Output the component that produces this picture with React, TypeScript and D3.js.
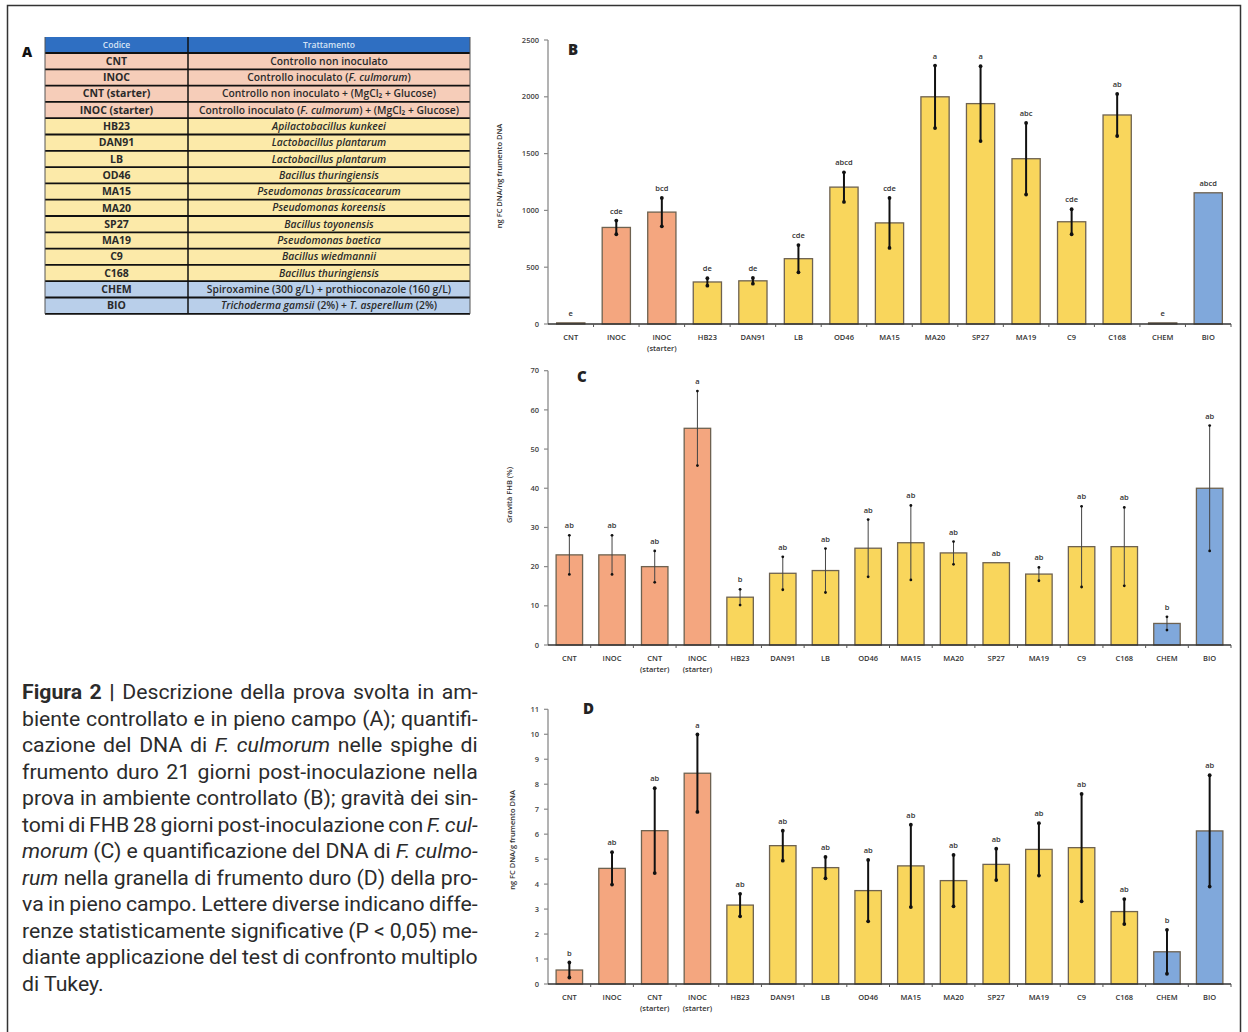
import React, { useLayoutEffect, useRef, useState } from 'react';
import * as d3 from 'd3';

// ---------------- DATA ----------------
const tableCodes = ['CNT', 'INOC', 'CNT (starter)', 'INOC (starter)', 'HB23', 'DAN91', 'LB', 'OD46', 'MA15', 'MA20', 'SP27', 'MA19', 'C9', 'C168', 'CHEM', 'BIO'];
const tableGroups = ['p', 'p', 'p', 'p', 'y', 'y', 'y', 'y', 'y', 'y', 'y', 'y', 'y', 'y', 'b', 'b'];
// [text, italic]
const tableTreat: [string, number][][] = [
  [['Controllo non inoculato', 0]],
  [['Controllo inoculato (', 0], ['F. culmorum', 1], [')', 0]],
  [['Controllo non inoculato + (MgCl₂ + Glucose)', 0]],
  [['Controllo inoculato (', 0], ['F. culmorum', 1], [') + (MgCl₂ + Glucose)', 0]],
  [['Apilactobacillus kunkeei', 1]],
  [['Lactobacillus plantarum', 1]],
  [['Lactobacillus plantarum', 1]],
  [['Bacillus thuringiensis', 1]],
  [['Pseudomonas brassicacearum', 1]],
  [['Pseudomonas koreensis', 1]],
  [['Bacillus toyonensis', 1]],
  [['Pseudomonas baetica', 1]],
  [['Bacillus wiedmannii', 1]],
  [['Bacillus thuringiensis', 1]],
  [['Spiroxamine (300 g/L) + prothioconazole (160 g/L)', 0]],
  [['Trichoderma gamsii', 1], [' (2%) + ', 0], ['T. asperellum', 1], [' (2%)', 0]],
];

const catsB = ['CNT', 'INOC', 'INOC\n(starter)', 'HB23', 'DAN91', 'LB', 'OD46', 'MA15', 'MA20', 'SP27', 'MA19', 'C9', 'C168', 'CHEM', 'BIO'];
const groupB = ['p', 'p', 'p', 'y', 'y', 'y', 'y', 'y', 'y', 'y', 'y', 'y', 'y', 'b', 'b'];
const valsB = [10, 850, 985, 370, 380, 575, 1205, 890, 2000, 1940, 1455, 900, 1840, 10, 1155];
const errB = [0, 60, 125, 33, 25, 120, 130, 220, 275, 330, 315, 110, 185, 0, 0];
const lettersB = ['e', 'cde', 'bcd', 'de', 'de', 'cde', 'abcd', 'cde', 'a', 'a', 'abc', 'cde', 'ab', 'e', 'abcd'];
const ticksB = [0, 500, 1000, 1500, 2000, 2500];

const catsCD = ['CNT', 'INOC', 'CNT\n(starter)', 'INOC\n(starter)', 'HB23', 'DAN91', 'LB', 'OD46', 'MA15', 'MA20', 'SP27', 'MA19', 'C9', 'C168', 'CHEM', 'BIO'];
const groupCD = ['p', 'p', 'p', 'p', 'y', 'y', 'y', 'y', 'y', 'y', 'y', 'y', 'y', 'y', 'b', 'b'];

const valsC = [23, 23, 20, 55.3, 12.2, 18.3, 19, 24.7, 26.1, 23.5, 21, 18.1, 25.1, 25.1, 5.5, 40];
const errC = [5, 5, 4, 9.5, 2, 4.2, 5.6, 7.3, 9.5, 2.9, 0, 1.7, 10.3, 10, 1.7, 16];
const lettersC = ['ab', 'ab', 'ab', 'a', 'b', 'ab', 'ab', 'ab', 'ab', 'ab', 'ab', 'ab', 'ab', 'ab', 'b', 'ab'];
const ticksC = [0, 10, 20, 30, 40, 50, 60, 70];

const valsD = [0.56, 4.63, 6.14, 8.44, 3.16, 5.54, 4.66, 3.74, 4.73, 4.14, 4.79, 5.39, 5.46, 2.9, 1.29, 6.13];
const errD = [0.3, 0.65, 1.7, 1.55, 0.45, 0.6, 0.43, 1.23, 1.65, 1.03, 0.63, 1.05, 2.15, 0.5, 0.88, 2.23];
const lettersD = ['b', 'ab', 'ab', 'a', 'ab', 'ab', 'ab', 'ab', 'ab', 'ab', 'ab', 'ab', 'ab', 'ab', 'b', 'ab'];
const ticksD = [0, 1, 2, 3, 4, 5, 6, 7, 8, 9, 10, 11];

type Seg = { t: string; b?: number; i?: number };
const captionLines: Seg[][] = [
  [{ t: 'Figura 2 |', b: 1 }, { t: ' Descrizione della prova svolta in am-' }],
  [{ t: 'biente controllato e in pieno campo (A); quantifi-' }],
  [{ t: 'cazione del DNA di ' }, { t: 'F. culmorum', i: 1 }, { t: ' nelle spighe di' }],
  [{ t: 'frumento duro 21 giorni post-inoculazione nella' }],
  [{ t: 'prova in ambiente controllato (B); gravità dei sin-' }],
  [{ t: 'tomi di FHB 28 giorni post-inoculazione con ' }, { t: 'F. cul-', i: 1 }],
  [{ t: 'morum', i: 1 }, { t: ' (C) e quantificazione del DNA di ' }, { t: 'F. culmo-', i: 1 }],
  [{ t: 'rum', i: 1 }, { t: ' nella granella di frumento duro (D) della pro-' }],
  [{ t: 'va in pieno campo. Lettere diverse indicano diffe-' }],
  [{ t: 'renze statisticamente significative (P < 0,05) me-' }],
  [{ t: 'diante applicazione del test di confronto multiplo' }],
  [{ t: 'di Tukey.' }],
];

// ---------------- STYLE ----------------
const FILL: Record<string, string> = { p: '#F4A67F', y: '#F9D65C', b: '#80A8DB' };
const ROWFILL: Record<string, string> = { p: '#F6CDB9', y: '#FCEAA9', b: '#B9CFEA' };
const CF = '"Open Sans", "Liberation Sans", sans-serif';

type PanelProps = {
  cats: string[]; vals: number[]; errs: number[]; letters: string[]; groups: string[];
  ticks: number[]; x0: number; x1: number; y0: number; yTop: number;
  ylab: string; ylabX: number; ylabY: number; panel: string; panelX: number; panelY: number;
  thinErr?: boolean;
};

function Panel(p: PanelProps) {
  const n = p.cats.length;
  const x = d3.scaleBand<number>().domain(d3.range(n)).range([p.x0, p.x1]).paddingInner(0.38).paddingOuter(0.19);
  const max = p.ticks[p.ticks.length - 1];
  const y = d3.scaleLinear().domain([0, max]).range([p.y0, p.yTop]);
  const step = x.step();
  const errColor = p.thinErr ? '#444' : '#111';
  const errW = p.thinErr ? 1 : 2;
  return (
    <g>
      <line x1={p.x0} x2={p.x0} y1={p.y0} y2={p.yTop} stroke="#8a8a8a" strokeWidth={1.3} />
      {p.ticks.map((t) => (
        <g key={t}>
          <line x1={p.x0 - 4} x2={p.x0} y1={y(t)} y2={y(t)} stroke="#8a8a8a" strokeWidth={1.2} />
          <text x={p.x0 - 9} y={y(t)} dy="0.35em" textAnchor="end" fontSize={7.5} fontWeight={600} fill="#444" fontFamily={CF}>{t}</text>
        </g>
      ))}
      {p.vals.map((v, i) => (
        <rect key={i} x={x(i)} y={y(v)} width={x.bandwidth()} height={p.y0 - y(v)}
          fill={FILL[p.groups[i]]} stroke="#6e6250" strokeWidth={1.3} />
      ))}
      <line x1={p.x0} x2={p.x1} y1={p.y0} y2={p.y0} stroke="#333" strokeWidth={1.6} />
      {d3.range(1, n + 1).map((k) => (
        <line key={k} x1={p.x0 + k * step} x2={p.x0 + k * step} y1={p.y0} y2={p.y0 + 3} stroke="#555" strokeWidth={1} />
      ))}
      {p.vals.map((v, i) => {
        const e = p.errs[i];
        if (!e) return null;
        const cx = (x(i) as number) + x.bandwidth() / 2;
        return (
          <g key={i}>
            <line x1={cx} x2={cx} y1={y(v + e)} y2={y(Math.max(0, v - e))} stroke={errColor} strokeWidth={errW} />
            <circle cx={cx} cy={y(v + e)} r={p.thinErr ? 1.4 : 1.9} fill="#111" />
            <circle cx={cx} cy={y(Math.max(0, v - e))} r={p.thinErr ? 1.4 : 1.9} fill="#111" />
          </g>
        );
      })}
      {p.vals.map((v, i) => {
        const cx = (x(i) as number) + x.bandwidth() / 2;
        return (
          <text key={i} x={cx} y={y(v + p.errs[i]) - 7} textAnchor="middle" fontSize={7.5} fontWeight={600} fill="#333" fontFamily={CF}>{p.letters[i]}</text>
        );
      })}
      {p.cats.map((c, i) => {
        const cx = (x(i) as number) + x.bandwidth() / 2;
        const parts = c.split('\n');
        return (
          <text key={i} x={cx} y={p.y0 + 16} textAnchor="middle" fontSize={7.5} fontWeight={600} fill="#333" fontFamily={CF}>
            {parts.map((s, j) => (
              <tspan key={j} x={cx} dy={j === 0 ? 0 : 11}>{s}</tspan>
            ))}
          </text>
        );
      })}
      <text transform={`translate(${p.ylabX},${p.ylabY}) rotate(-90)`} textAnchor="middle" fontSize={7.5} fontWeight={600} fill="#333" fontFamily={CF}>{p.ylab}</text>
      <text x={p.panelX} y={p.panelY} fontSize={15} fontWeight={800} fill="#222" fontFamily={CF} dominantBaseline="central">{p.panel}</text>
    </g>
  );
}

function Table() {
  const left = 45, mid = 188, right = 470, top = 37, headH = 16, rowH = 16.3;
  const rows = tableCodes.length;
  const bottom = top + headH + rows * rowH;
  return (
    <g fontFamily={CF}>
      <text x={27} y={51} textAnchor="middle" dominantBaseline="central" fontSize={14} fontWeight={800} fill="#111">A</text>
      <rect x={left} y={top} width={right - left} height={headH} fill="#2F6FC2" />
      <text x={(left + mid) / 2} y={top + headH / 2} dy="0.35em" textAnchor="middle" fontSize={8.5} fill="#d6e4f5" fontWeight={600}>Codice</text>
      <text x={(mid + right) / 2} y={top + headH / 2} dy="0.35em" textAnchor="middle" fontSize={8.5} fill="#d6e4f5" fontWeight={600}>Trattamento</text>
      {tableCodes.map((c, i) => {
        const ry = top + headH + i * rowH;
        return (
          <g key={i}>
            <rect x={left} y={ry} width={right - left} height={rowH} fill={ROWFILL[tableGroups[i]]} />
            <text x={(left + mid) / 2} y={ry + rowH / 2} dy="0.35em" textAnchor="middle" fontSize={10.5} fontWeight={700} fill="#2a2a2a">{c}</text>
            <text x={(mid + right) / 2} y={ry + rowH / 2} dy="0.35em" textAnchor="middle" fontSize={10.3} fontWeight={600} fill="#2a2a2a">
              {tableTreat[i].map(([t, it], j) => (
                <tspan key={j} fontStyle={it ? 'italic' : 'normal'}>{t}</tspan>
              ))}
            </text>
          </g>
        );
      })}
      {d3.range(rows + 1).map((k) => (
        <line key={k} x1={left} x2={right} y1={top + headH + k * rowH} y2={top + headH + k * rowH} stroke="#111" strokeWidth={1.8} />
      ))}
      <line x1={mid} x2={mid} y1={top} y2={bottom} stroke="#111" strokeWidth={1.5} />
      <line x1={left} x2={left} y1={top} y2={bottom} stroke="#555" strokeWidth={1} />
      <line x1={right} x2={right} y1={top} y2={bottom} stroke="#555" strokeWidth={1} />
    </g>
  );
}

function Caption() {
  const refs = useRef<(SVGTextElement | null)[]>([]);
  const [fit, setFit] = useState<{ k: number; ws: number[] } | null>(null);
  const x0 = 22, target = 456, y0 = 692, lh = 26.5;
  useLayoutEffect(() => {
    const widths = refs.current.map((el) => (el ? el.getComputedTextLength() : 0));
    const ratios = widths.slice(0, 11).map((w) => target / w).sort((a, b) => a - b);
    const k = ratios[Math.floor(ratios.length / 2)];
    const ws = widths.map((w, i) => {
      if (i === captionLines.length - 1) return 0;
      const spaces = captionLines[i].map((s) => s.t).join('').split(' ').length - 1;
      return (target / k - w) / Math.max(1, spaces);
    });
    setFit({ k, ws });
  }, []);
  return (
    <g fontFamily="Roboto, 'Open Sans', sans-serif" fontSize={21} fill="#2b2b2b">
      {captionLines.map((line, i) => (
        <g key={i} transform={`translate(${x0},${y0 + i * lh}) scale(${fit ? fit.k : 1},1)`}>
          <text ref={(el) => { refs.current[i] = el; }} x={0} y={0} dy="0.35em"
            style={{ wordSpacing: fit ? `${fit.ws[i]}px` : '0px' }}>
            {line.map((s, j) => (
              <tspan key={j} fontWeight={s.b ? 700 : 400} fontStyle={s.i ? 'italic' : 'normal'}>{s.t}</tspan>
            ))}
          </text>
        </g>
      ))}
    </g>
  );
}

export default function App() {
  return (
    <svg width={1248} height={1032} style={{ position: 'absolute', left: 0, top: 0, background: '#fff' }}>
      <rect x={0} y={0} width={1248} height={1032} fill="#fff" />
      <rect x={7.5} y={5.5} width={1233} height={1040} fill="none" stroke="#333" strokeWidth={1.5} />
      <Table />
      <Panel cats={catsB} vals={valsB} errs={errB} letters={lettersB} groups={groupB} ticks={ticksB}
        x0={548} x1={1231} y0={324} yTop={40} ylab="ng FC DNA/ng frumento DNA" ylabX={502} ylabY={176}
        panel="B" panelX={568} panelY={49} />
      <Panel cats={catsCD} vals={valsC} errs={errC} letters={lettersC} groups={groupCD} ticks={ticksC}
        x0={548} x1={1231} y0={645} yTop={370.7} ylab="Gravità FHB (%)" ylabX={512} ylabY={495}
        panel="C" panelX={577} panelY={376} thinErr />
      <Panel cats={catsCD} vals={valsD} errs={errD} letters={lettersD} groups={groupCD} ticks={ticksD}
        x0={548} x1={1231} y0={984} yTop={709.3} ylab="ng FC DNA/g frumento DNA" ylabX={515} ylabY={840}
        panel="D" panelX={583} panelY={708} />
      <Caption />
    </svg>
  );
}
